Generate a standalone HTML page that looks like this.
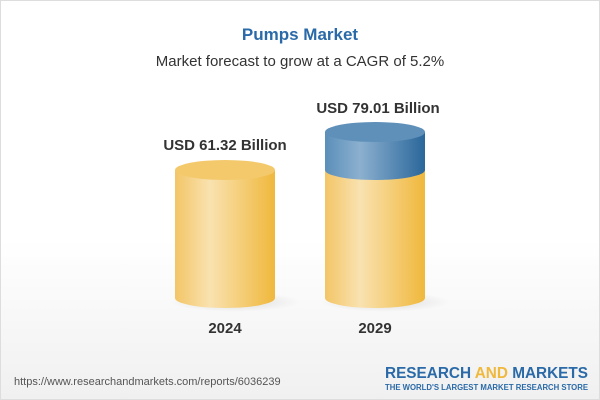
<!DOCTYPE html>
<html><head><style>
body{margin:0;width:600px;height:400px;overflow:hidden;font-family:"Liberation Sans",sans-serif;background:linear-gradient(#fff 0%,#fff 60%,#f0f0f0 100%);position:relative}
.t{position:absolute;width:100%;text-align:center}
</style></head><body>
<div style="position:absolute;inset:0;border:1px solid #ddd;box-sizing:border-box"></div>
<div class="t" style="top:25px;font-size:17px;font-weight:bold;color:#2a6aa8">Pumps Market</div>
<div class="t" style="top:53px;font-size:15px;color:#333">Market forecast to grow at a CAGR of 5.2%</div>
<svg width="600" height="400" style="position:absolute;left:0;top:0">
<defs>
<linearGradient id="y" x1="0" x2="1"><stop offset="0" stop-color="#f3c566"/><stop offset="0.35" stop-color="#f9e2b0"/><stop offset="1" stop-color="#f0b83c"/></linearGradient>
<linearGradient id="b" x1="0" x2="1"><stop offset="0" stop-color="#5b8fb9"/><stop offset="0.35" stop-color="#8cb0cf"/><stop offset="1" stop-color="#2a679b"/></linearGradient>
<radialGradient id="s"><stop offset="0" stop-color="#000" stop-opacity="0.12"/><stop offset="1" stop-color="#000" stop-opacity="0"/></radialGradient>
</defs>
<ellipse cx="235" cy="302" rx="65" ry="10" fill="url(#s)"/>
<ellipse cx="385" cy="302" rx="65" ry="10" fill="url(#s)"/>
<path d="M175 170 V298 A50 10 0 0 0 275 298 V170 Z" fill="url(#y)"/>
<ellipse cx="225" cy="170" rx="50" ry="10" fill="#f4c96c"/>
<path d="M325 170 V298 A50 10 0 0 0 425 298 V170 Z" fill="url(#y)"/>
<path d="M325 132 V170 A50 10 0 0 0 425 170 V132 Z" fill="url(#b)"/>
<ellipse cx="375" cy="132" rx="50" ry="10" fill="#5f90ba"/>
<g font-weight="bold" font-size="15" fill="#333" text-anchor="middle">
<text x="225" y="150">USD 61.32 Billion</text>
<text x="378" y="113">USD 79.01 Billion</text>
<text x="225" y="333">2024</text>
<text x="375" y="333">2029</text>
</g>
<text x="14" y="385" font-size="11" fill="#555">https://www.researchandmarkets.com/reports/6036239</text>
<text x="385" y="378" font-size="16" font-weight="bold" fill="#2a6aa8" textLength="203" lengthAdjust="spacingAndGlyphs">RESEARCH <tspan fill="#f0b83c">AND</tspan> MARKETS</text>
<text x="385" y="390" font-size="8" font-weight="bold" fill="#2a6aa8" textLength="203" lengthAdjust="spacingAndGlyphs">THE WORLD'S LARGEST MARKET RESEARCH STORE</text>
</svg>
</body></html>
